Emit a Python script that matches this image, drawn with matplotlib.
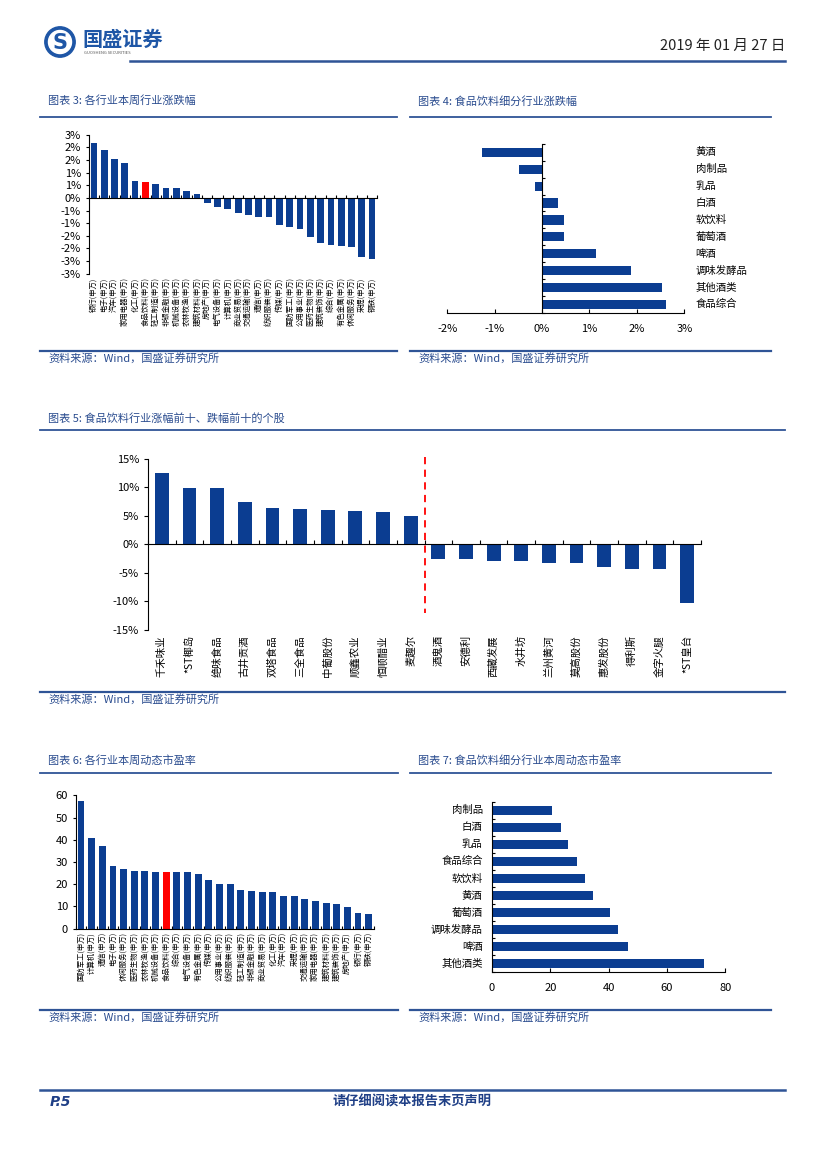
import matplotlib
matplotlib.use("Agg")
import matplotlib.pyplot as plt
import numpy as np
from matplotlib.lines import Line2D
from matplotlib.patches import Circle

plt.rcParams["font.family"] = ["Noto Sans CJK SC", "DejaVu Sans"]
plt.rcParams["axes.unicode_minus"] = False

W, H = 827, 1169
BAR = "#0B3D91"
RED = "#FF0000"
TITLE_BLUE = "#2A4C8F"
LINE_BLUE = "#2F5496"

# 图表3 各行业本周行业涨跌幅 (%)
ind_week = ["银行", "电子", "汽车", "家用电器", "化工", "食品饮料", "轻工制造", "非银金融",
            "机械设备", "农林牧渔", "建筑材料", "房地产", "电气设备", "计算机", "商业贸易",
            "交通运输", "通信", "纺织服装", "传媒", "国防军工", "公用事业", "医药生物",
            "建筑装饰", "综合", "有色金属", "休闲服务", "采掘", "钢铁"]
chg_week = [2.18, 1.90, 1.54, 1.37, 0.66, 0.61, 0.56, 0.39, 0.38, 0.28, 0.17, -0.20,
            -0.37, -0.43, -0.61, -0.68, -0.76, -0.76, -1.06, -1.17, -1.22, -1.53,
            -1.78, -1.86, -1.90, -1.94, -2.33, -2.41]
ytick_vals3 = [2.5, 2.0, 1.5, 1.0, 0.5, 0.0, -0.5, -1.0, -1.5, -2.0, -2.5, -3.0]
ytick_labels3 = ["3%", "2%", "2%", "1%", "1%", "0%", "-1%", "-1%", "-2%", "-2%", "-3%", "-3%"]

# 图表4 食品饮料细分行业涨跌幅 (%)
sub_chg_names = ["黄酒", "肉制品", "乳品", "白酒", "软饮料", "葡萄酒", "啤酒",
                 "调味发酵品", "其他酒类", "食品综合"]
sub_chg = [-1.27, -0.49, -0.15, 0.34, 0.46, 0.46, 1.14, 1.87, 2.53, 2.61]

# 图表5 涨幅前十、跌幅前十个股 (%)
stocks = ["千禾味业", "*ST椰岛", "绝味食品", "古井贡酒", "双塔食品", "三全食品", "中葡股份",
          "顺鑫农业", "恒顺醋业", "麦趣尔", "酒鬼酒", "安德利", "西藏发展", "水井坊",
          "兰州黄河", "莫高股份", "惠发股份", "得利斯", "金字火腿", "*ST皇台"]
stock_chg = [12.5, 9.9, 9.8, 7.4, 6.3, 6.2, 6.1, 5.9, 5.7, 4.9,
             -2.6, -2.6, -2.9, -2.9, -3.3, -3.3, -4.0, -4.3, -4.3, -10.2]
ytick_vals5 = [15, 10, 5, 0, -5, -10, -15]

# 图表6 各行业本周动态市盈率
ind_pe = ["国防军工", "计算机", "通信", "电子", "休闲服务", "医药生物", "农林牧渔", "机械设备",
          "食品饮料", "综合", "电气设备", "有色金属", "传媒", "公用事业", "纺织服装", "轻工制造",
          "非银金融", "商业贸易", "化工", "汽车", "采掘", "交通运输", "家用电器", "建筑材料",
          "建筑装饰", "房地产", "银行", "钢铁"]
pe_vals = [57.4, 40.6, 37.2, 28.2, 26.7, 25.9, 25.9, 25.6, 25.3, 25.3, 25.3, 24.4, 21.7,
           20.1, 20.1, 17.5, 16.9, 16.6, 16.3, 14.8, 14.5, 13.5, 12.6, 11.7, 10.9, 9.7, 7.0, 6.7]

# 图表7 食品饮料细分行业本周动态市盈率
sub_pe_names = ["肉制品", "白酒", "乳品", "食品综合", "软饮料", "黄酒", "葡萄酒",
                "调味发酵品", "啤酒", "其他酒类"]
sub_pe = [20.6, 23.7, 26.1, 29.1, 32.0, 34.5, 40.6, 43.1, 46.5, 72.8]

SOURCE = "资料来源：Wind，国盛证券研究所"


def px_rect(x0, y0, x1, y1):
    return [x0 / W, 1 - y1 / H, (x1 - x0) / W, (y1 - y0) / H]


def hline(fig, x0, x1, y, lw=1.2, color=LINE_BLUE):
    fig.add_artist(Line2D([x0 / W, x1 / W], [1 - y / H, 1 - y / H],
                          transform=fig.transFigure, color=color, lw=lw))


def ftext(fig, x, y, s, **kw):
    fig.text(x / W, 1 - y / H, s, **kw)


def section(fig, x0, x1, y_title, y_line, y_src_line, title):
    ftext(fig, x0 + 8, y_title, title, fontsize=8, color=TITLE_BLUE,
          style="italic", va="center")
    hline(fig, x0, x1, y_line, lw=1.3)
    hline(fig, x0, x1, y_src_line, lw=1.6)
    ftext(fig, x0 + 8, y_src_line + 7, SOURCE, fontsize=8, color=TITLE_BLUE,
          style="italic", va="center")


def clean(ax):
    for s in ["top", "right"]:
        ax.spines[s].set_visible(False)
    ax.patch.set_alpha(0)


fig = plt.figure(figsize=(W / 100, H / 100), dpi=100)

# ---- header ----
logo = fig.add_axes(px_rect(44, 26, 76, 58))
logo.set_xlim(-1, 1)
logo.set_ylim(-1, 1)
logo.set_aspect("equal")
logo.axis("off")
logo.add_patch(Circle((0, 0), 0.95, color="#1E56A6"))
logo.add_patch(Circle((0, 0), 0.72, color="white"))
logo.text(0, -0.05, "S", ha="center", va="center", fontsize=15, fontweight="bold",
          color="#1E56A6", family="DejaVu Sans")
ftext(fig, 82, 39, "国盛证券", fontsize=14.5, fontweight="bold", color="#1E56A6", va="center")
ftext(fig, 84, 53, "GUOSHENG SECURITIES", fontsize=3, color="#555555", va="center")
ftext(fig, 785, 46, "2019 年 01 月 27 日", fontsize=10.5, ha="right", va="center", color="#222222")
hline(fig, 130, 785, 61, lw=1.8)

# ---- sections ----
section(fig, 40, 397, 101, 117, 351, "图表 3: 各行业本周行业涨跌幅")
section(fig, 410, 771, 101, 117, 351, "图表 4: 食品饮料细分行业涨跌幅")
section(fig, 40, 785, 418, 430, 692, "图表 5: 食品饮料行业涨幅前十、跌幅前十的个股")
section(fig, 40, 398, 760, 773, 1010, "图表 6: 各行业本周动态市盈率")
section(fig, 410, 771, 760, 773, 1010, "图表 7: 食品饮料细分行业本周动态市盈率")

# ---- chart 3 ----
ax3 = fig.add_axes(px_rect(88.7, 134.7, 377.3, 273.7))
x3 = np.arange(len(ind_week))
colors3 = [RED if n == "食品饮料" else BAR for n in ind_week]
ax3.bar(x3, chg_week, width=0.65, color=colors3)
ax3.set_xlim(-0.5, len(ind_week) - 0.5)
ax3.set_ylim(-3, 2.5)
ax3.set_yticks(ytick_vals3)
ax3.set_yticklabels(ytick_labels3, fontsize=8)
ax3.spines["bottom"].set_position(("data", 0))
ax3.set_xticks(np.arange(len(ind_week) + 1) - 0.5)
ax3.set_xticklabels([])
ax3.tick_params(axis="x", length=2, direction="in")
ax3.tick_params(axis="y", length=2)
for i, n in enumerate(ind_week):
    ax3.text(i, -3.15, n + "(申万)", rotation=90, ha="center", va="top", fontsize=5.3,
             clip_on=False)
clean(ax3)

# ---- chart 4 ----
ax4 = fig.add_axes(px_rect(447.3, 144, 684.3, 312.7))
y4 = np.arange(len(sub_chg_names))
ax4.barh(y4, sub_chg, height=0.55, color=BAR)
ax4.set_xlim(-2, 3)
ax4.set_ylim(len(sub_chg_names) - 0.5, -0.5)
ax4.spines["left"].set_position(("data", 0))
ax4.set_yticks(np.arange(len(sub_chg_names) + 1) - 0.5)
ax4.set_yticklabels([])
ax4.tick_params(axis="y", length=2, direction="in")
ax4.set_xticks([-2, -1, 0, 1, 2, 3])
ax4.set_xticklabels(["-2%", "-1%", "0%", "1%", "2%", "3%"], fontsize=8)
ax4.tick_params(axis="x", length=3, direction="in", pad=8)
for i, n in enumerate(sub_chg_names):
    ax4.text(3.24, i, n, ha="left", va="center", fontsize=7.5, clip_on=False)
clean(ax4)

# ---- chart 5 ----
ax5 = fig.add_axes(px_rect(148, 458.7, 701, 630))
x5 = np.arange(len(stocks))
ax5.bar(x5, stock_chg, width=0.5, color=BAR)
ax5.set_xlim(-0.5, len(stocks) - 0.5)
ax5.set_ylim(-15, 15)
ax5.set_yticks(ytick_vals5)
ax5.set_yticklabels([f"{v}%" for v in ytick_vals5], fontsize=8)
ax5.tick_params(axis="y", length=3)
ax5.spines["bottom"].set_position(("data", 0))
ax5.set_xticks(np.arange(len(stocks) + 1) - 0.5)
ax5.set_xticklabels([])
ax5.tick_params(axis="x", length=3, direction="in")
ax5.plot([9.5, 9.5], [15.3, -12], color=RED, ls=(0, (4, 3)), lw=1.3, clip_on=False)
for i, n in enumerate(stocks):
    ax5.text(i, -15.9, n, rotation=90, ha="center", va="top", fontsize=7.5, clip_on=False)
clean(ax5)

# ---- chart 6 ----
ax6 = fig.add_axes(px_rect(75.7, 795.3, 374, 928.7))
x6 = np.arange(len(ind_pe))
colors6 = [RED if n == "食品饮料" else BAR for n in ind_pe]
ax6.bar(x6, pe_vals, width=0.65, color=colors6)
ax6.set_xlim(-0.5, len(ind_pe) - 0.5)
ax6.set_ylim(0, 60)
ax6.set_yticks([0, 10, 20, 30, 40, 50, 60])
ax6.tick_params(axis="y", labelsize=8, length=2)
ax6.set_xticks(np.arange(len(ind_pe) + 1) - 0.5)
ax6.set_xticklabels([])
ax6.tick_params(axis="x", length=2, direction="in")
for i, n in enumerate(ind_pe):
    ax6.text(i, -1.5, n + "(申万)", rotation=90, ha="center", va="top", fontsize=5.3,
             clip_on=False)
clean(ax6)

# ---- chart 7 ----
ax7 = fig.add_axes(px_rect(492, 801.7, 725.3, 972.3))
y7 = np.arange(len(sub_pe_names))
ax7.barh(y7, sub_pe, height=0.55, color=BAR)
ax7.set_xlim(0, 80)
ax7.set_ylim(len(sub_pe_names) - 0.5, -0.5)
ax7.set_yticks(np.arange(len(sub_pe_names) + 1) - 0.5)
ax7.set_yticklabels([])
ax7.tick_params(axis="y", length=2, direction="in")
ax7.set_xticks([0, 20, 40, 60, 80])
ax7.tick_params(axis="x", labelsize=8, length=3, direction="in", pad=8)
for i, n in enumerate(sub_pe_names):
    ax7.text(-3.2, i, n, ha="right", va="center", fontsize=7.5, clip_on=False)
clean(ax7)

# ---- footer ----
hline(fig, 40, 785, 1090, lw=1.8)
ftext(fig, 50, 1102, "P.5", fontsize=10, fontweight="bold", style="italic",
      color="#1F3F86", va="center", family="DejaVu Sans")
ftext(fig, 412, 1102, "请仔细阅读本报告末页声明", fontsize=9.5, fontweight="bold",
      style="italic", color="#1F3F86", ha="center", va="center")

fig.savefig("out.png", dpi=100)
